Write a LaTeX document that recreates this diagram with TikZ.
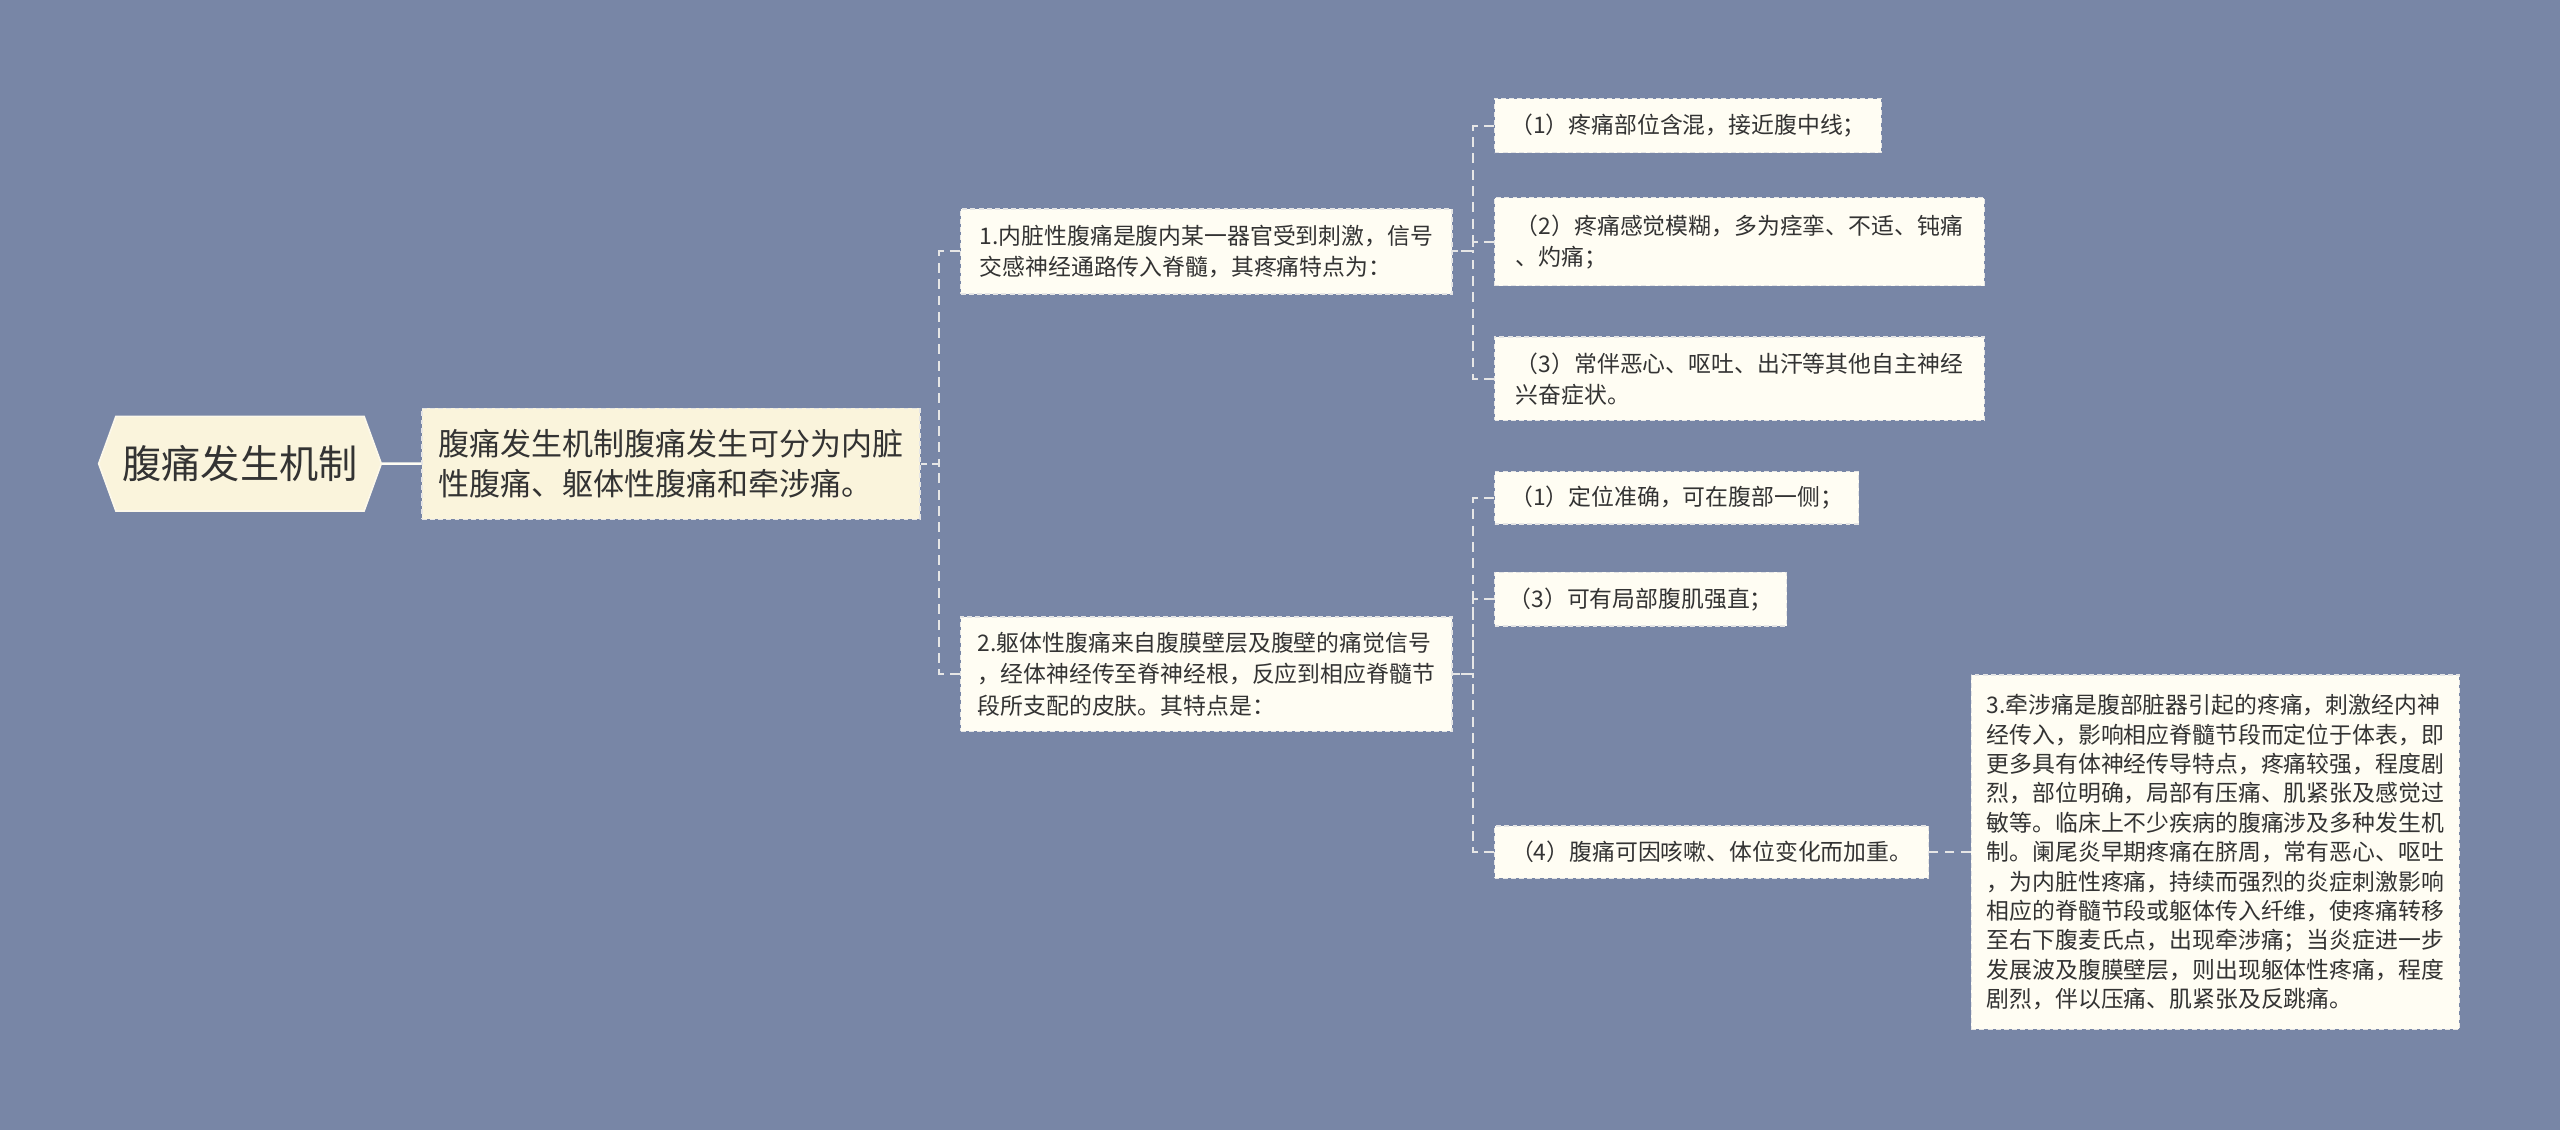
\documentclass[tikz,border=0pt]{standalone}
\usepackage{fontspec}
\usepackage{xcolor}
\usepackage{tikz}
\usetikzlibrary{
    shapes,
    shapes.symbols,
    backgrounds,
    calc,
    positioning,
}
\newfontfamily\cjk{Noto Sans CJK SC}
\definecolor{slate}{HTML}{7886A6}
\definecolor{cream}{HTML}{FAF4DC}
\definecolor{paper}{HTML}{FFFDF3}
\definecolor{ink}{HTML}{333333}
\definecolor{wire}{HTML}{E6E6E6}

\begin{document}
\begin{tikzpicture}[x=1pt,y=-1pt,auto]

    \tikzstyle{commonNode}=[text=ink, align=left, anchor=west, inner sep=4pt, line width=0.8pt, draw=white!80!gray, dash pattern=on 3pt off 2pt]
    \tikzstyle{root}=[commonNode, shape=signal, signal to=west and east, signal pointer angle=140, anchor=center, fill=cream, draw=cream!60!white, solid, line width=1pt, font=\cjk\fontsize{24}{28}\selectfont]
    \tikzstyle{topic}=[commonNode, rectangle, fill=cream, font=\cjk\fontsize{19}{24}\selectfont]
    \tikzstyle{branch}=[commonNode, rectangle, fill=paper, font=\cjk\fontsize{14}{19}\selectfont]
    \tikzstyle{leaf}=[branch]
    \tikzstyle{longLeaf}=[branch, font=\cjk\fontsize{14}{18}\selectfont]
    \tikzstyle{stem}=[draw=paper, line width=1.5pt]
    \tikzstyle{link}=[draw=wire, line width=1.2pt, dash pattern=on 6pt off 4pt,
        to path={(\tikztostart.west) -- ++(-13,0) |- (\tikztotarget.east)}]

    % Background
    \fill[slate] (0,0) rectangle (1568,692);
    \useasboundingbox (0,0) rectangle (1568,692);

    % Root and topic
    \node at (147,284) [root, minimum width=170, minimum height=58] (R) {腹痛发生机制};
    \node at (258,284) [topic, minimum width=305, minimum height=68] (T)
        {腹痛发生机制腹痛发生可分为内脏\\性腹痛、躯体性腹痛和牵涉痛。}
        edge [stem] (R);

    % Two kinds of pain
    \node at (588,154) [branch, minimum width=301, minimum height=52] (V)
        {1.内脏性腹痛是腹内某一器官受到刺激，信号\\交感神经通路传入脊髓，其疼痛特点为：}
        edge [link] (T);
    \node at (588,413) [branch, minimum width=301, minimum height=70] (S)
        {2.躯体性腹痛来自腹膜壁层及腹壁的痛觉信号\\，经体神经传至脊神经根，反应到相应脊髓节\\段所支配的皮肤。其特点是：}
        edge [link] (T);

    % Visceral pain features
    \node at (915,77) [leaf, minimum width=237, minimum height=33] (V1)
        {（1）疼痛部位含混，接近腹中线；}
        edge [link] (V);
    \node at (915,148) [leaf, minimum width=300, minimum height=54] (V2)
        {（2）疼痛感觉模糊，多为痉挛、不适、钝痛\\、灼痛；}
        edge [link] (V);
    \node at (915,232) [leaf, minimum width=300, minimum height=51] (V3)
        {（3）常伴恶心、呕吐、出汗等其他自主神经\\兴奋症状。}
        edge [link] (V);

    % Somatic pain features
    \node at (915,305) [leaf, minimum width=223, minimum height=32] (S1)
        {（1）定位准确，可在腹部一侧；}
        edge [link] (S);
    \node at (915,367) [leaf, minimum width=179, minimum height=33] (S3)
        {（3）可有局部腹肌强直；}
        edge [link] (S);
    \node at (915,522) [leaf, minimum width=266, minimum height=32] (S4)
        {（4）腹痛可因咳嗽、体位变化而加重。}
        edge [link] (S);

    % Referred pain
    \node at (1207,522) [longLeaf, minimum width=299, minimum height=217] (P)
        {3.牵涉痛是腹部脏器引起的疼痛，刺激经内神\\经传入，影响相应脊髓节段而定位于体表，即\\更多具有体神经传导特点，疼痛较强，程度剧\\烈，部位明确，局部有压痛、肌紧张及感觉过\\敏等。临床上不少疾病的腹痛涉及多种发生机\\制。阑尾炎早期疼痛在脐周，常有恶心、呕吐\\，为内脏性疼痛，持续而强烈的炎症刺激影响\\相应的脊髓节段或躯体传入纤维，使疼痛转移\\至右下腹麦氏点，出现牵涉痛；当炎症进一步\\发展波及腹膜壁层，则出现躯体性疼痛，程度\\剧烈，伴以压痛、肌紧张及反跳痛。}
        edge [link] (S4);

\end{tikzpicture}
\end{document}
